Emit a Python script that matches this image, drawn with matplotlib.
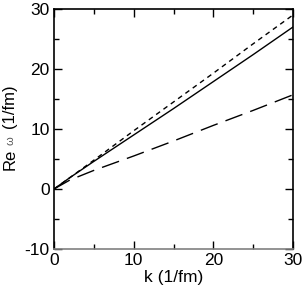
import matplotlib
matplotlib.use("Agg")
import matplotlib.pyplot as plt
from matplotlib.ticker import MultipleLocator

plt.rcParams['font.family'] = ['Liberation Sans', 'DejaVu Sans']
plt.rcParams['axes.unicode_minus'] = False

# k in 1/fm and Re omega for the three curves
k = [0, 2, 5, 10, 15, 20, 25, 30]
re_solid = [0, 1.9, 4.6, 9.0, 13.4, 17.9, 22.4, 27.0]
re_short = [0, 1.9, 4.8, 9.7, 14.5, 19.3, 24.2, 29.0]
re_long = [0, 1.5, 3.1, 5.5, 8.0, 10.6, 13.1, 15.7]

W, H = 303, 290
fig = plt.figure(figsize=(W / 100, H / 100), dpi=100)
ax = fig.add_axes([54 / W, 1 - 249 / H, 239 / W, 240 / H])

ax.plot(k, re_short, color='black', lw=1.0, dashes=(3.5, 3))
ax.plot(k, re_solid, color='black', lw=1.0)
ax.plot(k, re_long, color='black', lw=1.0, dashes=(13, 6))

ax.set_xlim(0, 30)
ax.set_ylim(-10, 30)
ax.xaxis.set_major_locator(MultipleLocator(10))
ax.xaxis.set_minor_locator(MultipleLocator(5))
ax.yaxis.set_major_locator(MultipleLocator(10))
ax.yaxis.set_minor_locator(MultipleLocator(5))
ax.tick_params(which='both', direction='in', top=True, right=True,
               labelsize=12.5, width=1, pad=3)
ax.tick_params(which='major', length=6)
ax.tick_params(which='minor', length=3.5)

for s in ax.spines.values():
    s.set_linewidth(1.2)
ax.spines['bottom'].set_color('#808080')

ax.set_xlabel('k (1/fm)', fontsize=12.5, labelpad=1)

# y label in three pieces, the omega is printed smaller
fig.text(10 / W, 1 - 170 / H, 'Re', rotation=90, fontsize=12, ha='center', va='bottom')
fig.text(11 / W, 1 - 141 / H, 'ω', rotation=90, fontsize=8, color='#555555', ha='center', va='center')
fig.text(10 / W, 1 - 84 / H, '(1/fm)', rotation=90, fontsize=12, ha='center', va='top')

fig.savefig('out.png', dpi=100)
